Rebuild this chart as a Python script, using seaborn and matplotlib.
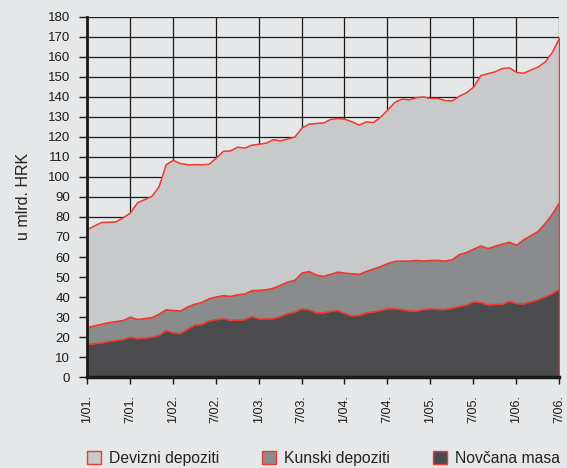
import numpy as np
import seaborn as sns
import matplotlib.pyplot as plt
from matplotlib.patches import Patch

# monthly values, 1/01. - 7/06. (u mlrd. HRK)
novcana_masa = [16.6, 17.0, 17.4, 18.1, 18.6, 19.1, 20.2, 19.5, 19.8, 20.2, 21.1, 23.6,
                22.4, 22.0, 24.2, 26.2, 26.5, 28.3, 29.0, 29.4, 28.6, 28.8, 29.0, 30.5,
                29.3, 29.4, 29.5, 30.6, 32.0, 32.7, 34.4, 33.9, 32.4, 32.4, 33.1, 33.5,
                32.0, 30.8, 31.1, 32.4, 32.8, 33.6, 34.4, 34.4, 34.0, 33.4, 33.3, 34.0,
                34.4, 34.1, 34.1, 34.7, 35.6, 36.2, 37.9, 37.5, 36.4, 36.6, 36.6, 38.1,
                37.0, 36.9, 37.9, 38.9, 40.4, 42.0, 44.2]
kunski_depoziti = [8.4, 8.9, 9.3, 9.4, 9.4, 9.5, 10.0, 9.6, 9.7, 9.8, 10.6, 10.3,
                   11.2, 11.3, 11.1, 10.5, 11.1, 11.1, 11.3, 11.6, 12.0, 12.6, 12.8, 13.0,
                   14.3, 14.5, 15.2, 15.6, 15.8, 15.9, 17.9, 19.1, 18.9, 18.2, 18.5, 19.2,
                   20.2, 21.1, 20.5, 20.7, 21.5, 21.9, 22.6, 23.7, 24.2, 24.8, 25.2, 24.3,
                   24.1, 24.5, 24.1, 24.2, 25.9, 26.3, 26.3, 28.3, 28.1, 29.0, 30.1, 29.5,
                   29.1, 32.0, 33.0, 34.1, 36.6, 39.7, 43.3]
devizni_depoziti = [49.0, 49.9, 50.8, 50.1, 49.8, 51.2, 52.0, 58.2, 59.4, 60.5, 63.5, 72.4,
                    74.9, 73.6, 71.0, 69.6, 68.7, 67.1, 69.3, 72.0, 72.6, 73.7, 72.8, 72.6,
                    72.9, 73.2, 74.1, 72.0, 71.4, 71.5, 72.4, 73.6, 75.6, 76.5, 77.3, 76.7,
                    76.8, 75.8, 74.5, 74.6, 73.1, 74.6, 76.7, 79.4, 80.9, 80.5, 81.3, 81.8,
                    80.9, 80.8, 80.1, 79.3, 79.0, 79.8, 80.9, 85.0, 87.3, 87.1, 87.6, 87.1,
                    86.3, 83.1, 82.7, 82.1, 80.6, 80.7, 82.0]
tick_labels = ['1/01.', '7/01.', '1/02.', '7/02.', '1/03.', '7/03.',
               '1/04.', '7/04.', '1/05.', '7/05.', '1/06.', '7/06.']

bg = '#e6e7e8'
red = '#ee3a30'
colors = ['#4b4b4d', '#8a8b8d', '#c8c9cb']

sns.set_theme(style='ticks', rc={
    'figure.facecolor': bg, 'axes.facecolor': bg, 'savefig.facecolor': bg,
    'axes.edgecolor': '#1a1a1a', 'xtick.color': '#1a1a1a', 'ytick.color': '#1a1a1a',
    'text.color': '#222222', 'axes.labelcolor': '#222222',
})
plt.rcParams['font.family'] = ['Liberation Sans', 'DejaVu Sans']

fig = plt.figure(figsize=(5.67, 4.68), dpi=100)
ax = fig.add_axes([0.1534, 0.194, 0.8326, 0.7705])

x = np.arange(len(novcana_masa))
polys = ax.stackplot(x, novcana_masa, kunski_depoziti, devizni_depoziti,
                     colors=colors, edgecolor=red, linewidth=1.1, zorder=2)

ax.set_xlim(0, len(x) - 1)
ax.set_ylim(0, 180)
ax.set_yticks(range(0, 181, 10))
ax.set_xticks(range(0, len(x), 6))
ax.set_xticklabels(tick_labels, rotation=90, fontsize=9)
ax.tick_params(axis='y', labelsize=9.5, length=6, width=1, pad=6)
ax.tick_params(axis='x', length=5, width=1, pad=8)
ax.grid(True, color='#1a1a1a', linewidth=0.9, zorder=1)
ax.set_axisbelow(True)
ax.set_ylabel('u mlrd. HRK', fontsize=11.5, labelpad=12)
sns.despine(ax=ax, top=True, right=True)
ax.spines['left'].set_linewidth(2)
ax.spines['bottom'].set_linewidth(2.5)
ax.spines['left'].set_zorder(3)
ax.spines['bottom'].set_zorder(3)

handles = [Patch(facecolor=colors[2], edgecolor=red, label='Devizni depoziti'),
           Patch(facecolor=colors[1], edgecolor=red, label='Kunski depoziti'),
           Patch(facecolor=colors[0], edgecolor=red, label='Novčana masa')]
fig.legend(handles=handles, loc='center left', bbox_to_anchor=(0.153, 0.021), ncol=3,
           frameon=False, fontsize=11.3, handlelength=0.9, handleheight=0.9,
           columnspacing=2.75, handletextpad=0.5, borderpad=0, borderaxespad=0)

fig.savefig('out.png', dpi=100)
